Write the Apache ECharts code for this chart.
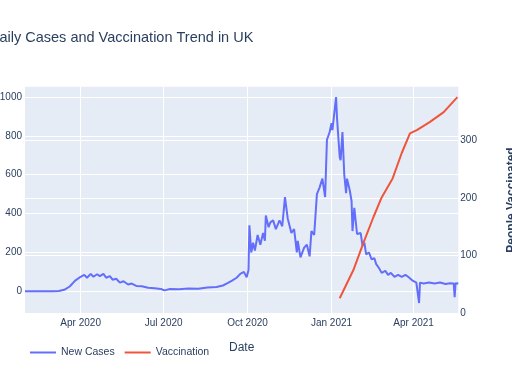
<!DOCTYPE html>
<html>
<head>
<meta charset="utf-8">
<script src="https://cdn.jsdelivr.net/npm/echarts@6/dist/echarts.min.js"></script>
<style>html,body{margin:0;padding:0;background:#fff}#c{width:512px;height:384px}</style>
</head>
<body>
<div id="c"></div>
<script>
var caseDates = ['2020-01-31','2020-02-15','2020-03-01','2020-03-08','2020-03-14','2020-03-20','2020-03-26','2020-04-01','2020-04-05','2020-04-08','2020-04-12','2020-04-15','2020-04-19','2020-04-22','2020-04-26','2020-04-29','2020-05-03','2020-05-06','2020-05-10','2020-05-14','2020-05-18','2020-05-23','2020-05-27','2020-06-01','2020-06-07','2020-06-14','2020-06-21','2020-06-28','2020-07-02','2020-07-08','2020-07-18','2020-07-28','2020-08-08','2020-08-18','2020-08-28','2020-09-04','2020-09-09','2020-09-14','2020-09-19','2020-09-23','2020-09-27','2020-09-30','2020-10-02','2020-10-03','2020-10-05','2020-10-07','2020-10-09','2020-10-12','2020-10-15','2020-10-18','2020-10-20','2020-10-21','2020-10-24','2020-10-26','2020-10-29','2020-11-01','2020-11-05','2020-11-08','2020-11-11','2020-11-14','2020-11-18','2020-11-21','2020-11-24','2020-11-25','2020-11-28','2020-12-02','2020-12-05','2020-12-08','2020-12-10','2020-12-13','2020-12-16','2020-12-19','2020-12-22','2020-12-25','2020-12-27','2020-12-30','2021-01-01','2021-01-02','2021-01-04','2021-01-06','2021-01-07','2021-01-10','2021-01-11','2021-01-13','2021-01-15','2021-01-17','2021-01-18','2021-01-21','2021-01-23','2021-01-24','2021-01-26','2021-01-27','2021-01-29','2021-02-02','2021-02-04','2021-02-06','2021-02-08','2021-02-11','2021-02-14','2021-02-17','2021-02-19','2021-02-22','2021-02-25','2021-03-01','2021-03-04','2021-03-07','2021-03-11','2021-03-15','2021-03-19','2021-03-23','2021-03-26','2021-03-31','2021-04-04','2021-04-06','2021-04-07','2021-04-08','2021-04-12','2021-04-18','2021-04-24','2021-04-30','2021-05-06','2021-05-11','2021-05-15','2021-05-16','2021-05-17','2021-05-20'];
var newCases = [0,0,0,2,8,25,55,75,85,70,90,75,88,78,90,70,78,60,65,45,52,35,40,28,26,18,16,12,5,12,11,15,13,20,22,30,42,55,70,90,100,72,110,340,200,250,210,290,240,300,260,390,330,355,365,320,365,335,485,375,300,320,200,260,175,225,240,180,310,290,500,535,580,485,780,820,865,830,915,1000,895,690,675,820,600,505,580,520,465,310,430,420,295,300,235,250,190,200,165,170,140,120,95,105,85,95,75,85,75,85,75,55,45,45,-60,45,40,45,40,45,38,42,40,-30,42,40];
var vaccDates = ['2021-01-10','2021-01-25','2021-02-05','2021-02-16','2021-02-25','2021-03-09','2021-03-19','2021-03-28','2021-04-05','2021-04-19','2021-05-04','2021-05-19'];
var vaccinations = [26,75,122,167,201,234,278,312,318,332,349,375];
var xTickDates = ['2020-04-01','2020-07-01','2020-10-01','2021-01-01','2021-04-01'];
var leftTicks = [0,200,400,600,800,1000];
var rightTicks = [0,100,200,300];
var monthNames = ['Jan','Feb','Mar','Apr','May','Jun','Jul','Aug','Sep','Oct','Nov','Dec'];

function ts(s){ var p = s.split('-'); return Date.UTC(+p[0], +p[1]-1, +p[2]); }
var txt = '#2a3f5f';
var font = 'Liberation Sans, Arial, sans-serif';

var chart = echarts.init(document.getElementById('c'), null, {renderer:'canvas'});
chart.setOption({
  backgroundColor: '#fff',
  animation: false,
  textStyle: {fontFamily: font, color: txt},
  title: {
    text: 'Daily Cases and Vaccination Trend in UK',
    left: -11, top: 30, padding: 0,
    textStyle: {fontFamily: font, fontSize: 14.5, fontWeight: 'normal', color: txt}
  },
  legend: {
    left: 25, top: 342,
    icon: 'rect', itemWidth: 26, itemHeight: 2, itemGap: 10,
    textStyle: {fontFamily: font, fontSize: 10.5, color: txt},
    data: ['New Cases','Vaccination']
  },
  grid: {
    left: 25, right: 53.7, top: 86.7, bottom: 70.7,
    outerBoundsMode: 'none', containLabel: false,
    show: true, backgroundColor: '#E5ECF6', borderWidth: 0
  },
  xAxis: {
    type: 'value',
    min: ts('2020-01-31'), max: ts('2021-05-20'),
    name: 'Date', nameLocation: 'middle', nameGap: 28,
    nameTextStyle: {fontFamily: font, fontSize: 12, color: txt},
    axisLine: {show: false}, axisTick: {show: false, customValues: xTickDates.map(ts)},
    splitLine: {show: true, lineStyle: {color: '#fff', width: 1}},
    axisLabel: {
      customValues: xTickDates.map(ts), margin: 5,
      fontFamily: font, fontSize: 10, color: txt,
      formatter: function(v){ var d = new Date(v); return monthNames[d.getUTCMonth()] + ' ' + d.getUTCFullYear(); }
    }
  },
  yAxis: [{
    type: 'value', min: -113, max: 1053,
    axisLine: {show: false}, axisTick: {show: false, customValues: leftTicks},
    splitLine: {show: true, lineStyle: {color: '#fff', width: 1}},
    axisLabel: {customValues: leftTicks, margin: 3, fontFamily: font, fontSize: 10, color: txt,
      formatter: function(v){ return String(v); }}
  }, {
    type: 'value', min: 0, max: 393, position: 'right',
    name: 'People Vaccinated', nameLocation: 'middle', nameGap: 47, nameRotate: 90,
    nameTextStyle: {fontFamily: font, fontSize: 12, fontWeight: 'bold', color: txt},
    axisLine: {show: false}, axisTick: {show: false, customValues: rightTicks},
    splitLine: {show: true, lineStyle: {color: '#fff', width: 1}},
    axisLabel: {customValues: rightTicks, margin: 2, fontFamily: font, fontSize: 10, color: txt,
      formatter: function(v){ return String(v); }}
  }],
  series: [{
    name: 'New Cases', type: 'line', yAxisIndex: 0, symbol: 'none',
    lineStyle: {color: '#636EFA', width: 2}, itemStyle: {color: '#636EFA'},
    data: caseDates.map(function(d,i){ return [ts(d), newCases[i]]; })
  }, {
    name: 'Vaccination', type: 'line', yAxisIndex: 1, symbol: 'none',
    lineStyle: {color: '#EF553B', width: 2}, itemStyle: {color: '#EF553B'},
    data: vaccDates.map(function(d,i){ return [ts(d), vaccinations[i]]; })
  }]
});
</script>
</body>
</html>
